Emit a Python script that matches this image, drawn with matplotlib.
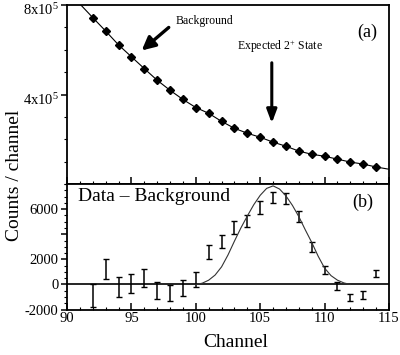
import matplotlib
matplotlib.use("Agg")
import matplotlib.pyplot as plt
import matplotlib.transforms as mtransforms
from matplotlib.ticker import MultipleLocator, FixedLocator, FixedFormatter

plt.rcParams['font.family'] = ['Liberation Serif', 'DejaVu Serif']
plt.rcParams['mathtext.fontset'] = 'stix'

###############################################################################
# Data
###############################################################################

# (a) background counts per channel
bg_channel = [92, 93, 94, 95, 96, 97, 98, 99, 100, 101, 102, 103,
              104, 105, 106, 107, 108, 109, 110, 111, 112, 113, 114]
bg_counts = [7.44e5, 6.84e5, 6.22e5, 5.69e5, 5.16e5, 4.64e5, 4.19e5, 3.78e5,
             3.42e5, 3.16e5, 2.80e5, 2.49e5, 2.27e5, 2.09e5, 1.87e5, 1.69e5,
             1.47e5, 1.33e5, 1.24e5, 1.11e5, 0.98e5, 0.89e5, 0.76e5]

# fitted background line, ends included
fit_channel = [91] + bg_channel + [115]
fit_counts = [8.05e5] + bg_counts + [0.66e5]

# (b) data minus background with errors
diff_channel = [92, 93, 94, 95, 96, 97, 98, 99, 100, 101, 102, 103,
                104, 105, 106, 107, 108, 109, 110, 111, 112, 113, 114]
diff_counts = [-900, 1200, -215, 65, 500, -510, -700, -300, 400, 2570, 3410,
               4540, 5080, 6120, 6920, 6850, 5440, 3010, 1130, -125, -1050,
               -830, 880]
diff_err = [900, 800, 775, 735, 720, 670, 640, 640, 590, 570, 530, 545,
            470, 490, 440, 430, 430, 400, 330, 330, 260, 290, 270]

# expected peak shape drawn over (b)
peak_channel = [100.0, 100.5, 101.0, 101.5, 102.0, 102.5, 103.0, 103.5,
                104.0, 104.5, 105.0, 105.5, 106.0, 106.5, 107.0, 107.5,
                108.0, 108.5, 109.0, 109.5, 110.0, 110.5, 111.0, 111.5, 112.0]
peak_counts = [0, 100, 340, 750, 1400, 2350, 3450, 4500, 5450, 6350, 7100,
               7650, 7850, 7600, 7050, 6300, 5400, 4350, 3350, 2250, 1300,
               700, 340, 120, 0]

###############################################################################
# Plot
###############################################################################

fig = plt.figure(figsize=(4.0, 3.55), dpi=100)
ax1 = fig.add_axes([0.1675, 0.4817, 0.805, 0.504])
ax2 = fig.add_axes([0.1675, 0.128, 0.805, 0.3537])

for ax in (ax1, ax2):
    for s in ax.spines.values():
        s.set_linewidth(1.3)
    ax.set_xlim(90, 115)
    ax.xaxis.set_major_locator(MultipleLocator(5))
    ax.xaxis.set_minor_locator(MultipleLocator(1))
    ax.tick_params(axis='x', which='major', direction='in', length=5, width=1.1)
    ax.tick_params(axis='x', which='minor', direction='in', length=2.5, width=0.8)
    ax.tick_params(axis='y', which='major', direction='out', length=4, width=1.1)
    ax.tick_params(axis='y', which='minor', direction='out', length=2, width=0.8)
    ax.tick_params(labelsize=10.5, pad=2)

# (a)
ax1.plot(fit_channel, fit_counts, color='black', lw=0.8)
ax1.plot(bg_channel, bg_counts, 'D', color='black', ms=4.0)
ax1.set_ylim(0, 8e5)
ax1.yaxis.set_major_locator(FixedLocator([4e5, 8e5]))
ax1.yaxis.set_major_formatter(FixedFormatter([r'4x10$^{\mathregular{5}}$',
                                              r'8x10$^{\mathregular{5}}$']))
ax1.yaxis.set_minor_locator(MultipleLocator(1e5))
ax1.tick_params(axis='x', labelbottom=False)
# nudge the top-panel labels down a little so 8x10^5 stays inside the figure
shift = mtransforms.ScaledTranslation(0, -2.5 / 72, fig.dpi_scale_trans)
for lab in ax1.get_yticklabels():
    lab.set_transform(lab.get_transform() + shift)

ax1.annotate('', xy=(95.8, 5.97e5), xytext=(97.9, 7.0e5),
             arrowprops=dict(arrowstyle='-|>,head_length=0.8,head_width=0.4',
                             lw=2.4, color='black', shrinkA=0, shrinkB=0))
ax1.text(98.4, 7.29e5, 'Background', fontsize=8.5, ha='left', va='center')
ax1.annotate('', xy=(105.9, 2.72e5), xytext=(105.9, 5.42e5),
             arrowprops=dict(arrowstyle='-|>,head_length=0.8,head_width=0.3',
                             lw=2.2, color='black', shrinkA=0, shrinkB=0))
ax1.text(106.5, 6.13e5, r'Expected 2$^{\mathregular{+}}$ State', fontsize=8.5,
         ha='center', va='center')
ax1.text(113.3, 6.76e5, '(a)', fontsize=13, ha='center', va='center')

# (b)
ax2.axhline(0, color='black', lw=1.2)
ax2.errorbar(diff_channel, diff_counts, yerr=diff_err, fmt='none',
             ecolor='black', elinewidth=1.1, capsize=2.2, capthick=1.0)
ax2.plot(peak_channel, peak_counts, color='#333333', lw=0.8)
ax2.set_ylim(-2000, 8000)
ax2.yaxis.set_major_locator(FixedLocator([-2000, 0, 2000, 4000, 6000]))
ax2.yaxis.set_major_formatter(FixedFormatter(['-2000', '0', '2000', '', '6000']))
ax2.yaxis.set_minor_locator(MultipleLocator(500))
ax2.text(90.88, 7000, 'Data \u2013 Background', fontsize=14, ha='left', va='center')
ax2.text(112.94, 6500, '(b)', fontsize=13, ha='center', va='center')

fig.text(0.0375, 0.507, 'Counts / channel', rotation=90, fontsize=14,
         ha='center', va='center')
fig.text(0.5895, 0.034, 'Channel', fontsize=14, ha='center', va='center')

fig.savefig('out.png', dpi=100)
